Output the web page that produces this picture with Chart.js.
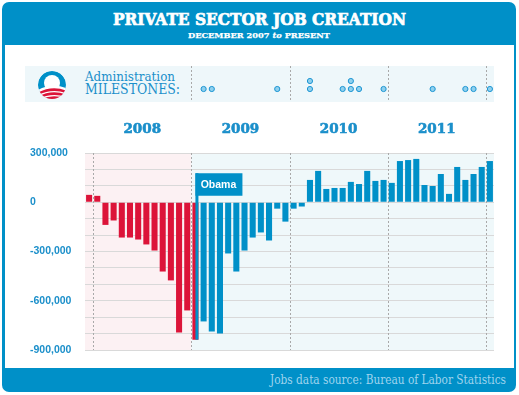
<!DOCTYPE html>
<html>
<head>
<meta charset="utf-8">
<script src="https://cdn.jsdelivr.net/npm/chart.js@4"></script>
<style>
  html, body { margin: 0; padding: 0; background: #fff; }
  #page { position: relative; width: 519px; height: 395px; overflow: hidden; }
  #frame { position: absolute; left: 0; top: 0; }
  #jobsChart { position: absolute; left: 5px; top: 105px; }
  #milestoneChart { position: absolute; left: 25px; top: 66px; }
</style>
</head>
<body>
<div id="page">
  <svg id="frame" width="519" height="395" xmlns="http://www.w3.org/2000/svg">
    <defs>
      <clipPath id="logoClip"><circle cx="0" cy="0" r="14"/></clipPath>
    </defs>
    <rect x="2" y="2" width="514" height="390" rx="7" fill="#0090c8"/>
    <rect x="5" y="45" width="509" height="323" fill="#fff"/>
    <text x="259.5" y="25" text-anchor="middle" font-family="DejaVu Serif" font-weight="900" font-size="16" fill="#fff" stroke="#fff" stroke-width="0.7" textLength="293" lengthAdjust="spacingAndGlyphs">PRIVATE SECTOR JOB CREATION</text>
    <text x="259" y="37.5" text-anchor="middle" font-family="DejaVu Serif" font-weight="700" font-size="8" fill="#fff" stroke="#fff" stroke-width="0.25" textLength="142" lengthAdjust="spacingAndGlyphs">DECEMBER 2007 <tspan font-style="italic">to</tspan> PRESENT</text>

    <rect x="25" y="66" width="469" height="36" fill="#eef7fa"/>
    <g transform="translate(52,85)" clip-path="url(#logoClip)">
      <circle cx="0" cy="0" r="14" fill="#0090c8"/>
      <circle cx="0" cy="-2" r="8" fill="#fff"/>
      <path d="M-14,5 Q0,-3 14,3 L14,14 L-14,14 Z" fill="#fff"/>
      <path d="M-14,7.5 Q0,0 14,5.5 L14,8 Q0,3 -14,10 Z" fill="#dc1439"/>
      <path d="M-14,11.5 Q0,4 14,9.5 L14,12 Q0,7 -14,14 Z" fill="#dc1439"/>
      <path d="M-14,15.5 Q0,8 14,13.5 L14,16 Q0,11 -14,18 Z" fill="#dc1439"/>
    </g>
    <text x="85" y="80.7" font-family="DejaVu Serif" font-size="12.5" fill="#1b8fca" textLength="90" lengthAdjust="spacingAndGlyphs">Administration</text>
    <text x="85" y="93.7" font-family="DejaVu Serif" font-size="15" fill="#1b8fca" textLength="95" lengthAdjust="spacingAndGlyphs">MILESTONES:</text>

    <text x="270" y="384" font-family="DejaVu Serif" font-size="12" fill="#9fd4ee" textLength="236" lengthAdjust="spacingAndGlyphs">Jobs data source: Bureau of Labor Statistics</text>
  </svg>
  <canvas id="milestoneChart" width="469" height="36"></canvas>
  <canvas id="jobsChart" width="509" height="255"></canvas>
</div>

<script>
// ===== Data =====
const months = [
  'Dec 07',
  'Jan 08','Feb 08','Mar 08','Apr 08','May 08','Jun 08','Jul 08','Aug 08','Sep 08','Oct 08','Nov 08','Dec 08',
  'Jan 09','Feb 09','Mar 09','Apr 09','May 09','Jun 09','Jul 09','Aug 09','Sep 09','Oct 09','Nov 09','Dec 09',
  'Jan 10','Feb 10','Mar 10','Apr 10','May 10','Jun 10','Jul 10','Aug 10','Sep 10','Oct 10','Nov 10','Dec 10',
  'Jan 11','Feb 11','Mar 11','Apr 11','May 11','Jun 11','Jul 11','Aug 11','Sep 11','Oct 11','Nov 11','Dec 11',
  'Jan 12'
];
const jobs = [
  45000,
  39000, -138000, -111000, -215000, -215000, -227000, -257000, -294000, -422000, -476000, -793000, -659000,
  -837000, -726000, -787000, -799000, -312000, -422000, -294000, -215000, -184000, -233000, -39000, -118000,
  -39000, -26000, 136000, 191000, 81000, 87000, 87000, 124000, 111000, 191000, 130000, 136000,
  118000, 251000, 257000, 264000, 105000, 99000, 172000, 51000, 215000, 136000, 172000, 215000,
  251000
];
const obamaMonth = 'Jan 09';   // flag goes here, blue bars start after it
const yearLabels = ['2008', '2009', '2010', '2011'];
const yearStarts = ['Jan 08', 'Jan 09', 'Jan 10', 'Jan 11', 'Jan 12'];
const yTickLabels = [300000, 0, -300000, -600000, -900000];

const milestoneMonths = ['Feb 09','Mar 09','Nov 09','Mar 10','Mar 10','Jul 10','Aug 10','Aug 10','Sep 10','Dec 10','Jun 11','Oct 11','Nov 11','Jan 12'];
const milestoneRows   = [1, 1, 1, 1, 2, 1, 1, 2, 1, 1, 1, 1, 1, 1];

const BLUE = '#0090c8';
const RED = '#dc1439';
const TEXT_BLUE = '#1b8fca';

const obamaIdx = months.indexOf(obamaMonth);
const barColors = months.map((m, i) => i <= obamaIdx ? RED : BLUE);

// left edge of a month's slot on a category scale
function slotLeft(x, idx) {
  const w = (x.right - x.left) / months.length;
  return x.getPixelForValue(idx) - w / 2;
}

// ===== Main chart decorations =====
const jobsDecor = {
  id: 'jobsDecor',
  beforeDraw(chart) {
    const { ctx, chartArea: a, scales: { x } } = chart;
    const split = slotLeft(x, obamaIdx);
    ctx.save();
    ctx.fillStyle = '#fcf1f3';
    ctx.fillRect(a.left, a.top, split - a.left, a.bottom - a.top);
    ctx.fillStyle = '#eff8fa';
    ctx.fillRect(split, a.top, a.right - split, a.bottom - a.top);
    ctx.restore();
  },
  beforeDatasetsDraw(chart) {
    const { ctx, chartArea: a, scales: { x } } = chart;
    ctx.save();
    ctx.strokeStyle = '#a9a9a9';
    ctx.lineWidth = 1;
    ctx.setLineDash([2, 2]);
    yearStarts.forEach(m => {
      const px = Math.round(slotLeft(x, months.indexOf(m))) + 0.5;
      ctx.beginPath();
      ctx.moveTo(px, a.top);
      ctx.lineTo(px, a.bottom);
      ctx.stroke();
    });
    ctx.restore();
  },
  afterDatasetsDraw(chart) {
    const { ctx, scales: { x, y } } = chart;
    ctx.save();
    // year labels
    ctx.font = 'bold 13.5px "DejaVu Serif"';
    ctx.fillStyle = TEXT_BLUE;
    ctx.strokeStyle = TEXT_BLUE;
    ctx.lineWidth = 0.6;
    ctx.textAlign = 'center';
    ctx.textBaseline = 'middle';
    yearLabels.forEach((yr, i) => {
      const l = slotLeft(x, months.indexOf(yearStarts[i]));
      const r = slotLeft(x, months.indexOf(yearStarts[i + 1]));
      ctx.fillText(yr, (l + r) / 2, 24.5);
      ctx.strokeText(yr, (l + r) / 2, 24.5);
    });
    // Obama flag
    const cx = x.getPixelForValue(obamaIdx);
    const y0 = y.getPixelForValue(0);
    const yv = y.getPixelForValue(jobs[obamaIdx]);
    ctx.fillStyle = BLUE;
    ctx.fillRect(cx, y0 - 29, 3, yv - (y0 - 29));
    ctx.fillRect(cx, y0 - 29, 47, 22.5);
    ctx.fillStyle = '#fff';
    ctx.font = 'bold 10.5px "Liberation Sans", Arial, sans-serif';
    ctx.textAlign = 'center';
    ctx.fillText('Obama', cx + 23, y0 - 17.5);
    ctx.restore();
  }
};

new Chart(document.getElementById('jobsChart').getContext('2d'), {
  type: 'bar',
  data: {
    labels: months,
    datasets: [{ data: jobs, backgroundColor: barColors, barPercentage: 0.74, categoryPercentage: 1 }]
  },
  options: {
    responsive: false,
    animation: false,
    layout: { padding: { top: 48, bottom: 10, left: 25, right: 20 } },
    plugins: { legend: { display: false }, tooltip: { enabled: false } },
    scales: {
      x: { display: false, offset: true },
      y: {
        min: -900000, max: 300000,
        afterFit(s) { s.width = 55; },
        border: { display: false },
        grid: { color: '#d9d9d9', lineWidth: 1, drawTicks: false },
        ticks: {
          stepSize: 100000,
          padding: 0,
          crossAlign: 'far',
          color: TEXT_BLUE,
          font: { family: '"Liberation Sans", Arial, sans-serif', size: 10.5, weight: 'bold' },
          callback: v => yTickLabels.includes(v) ? v.toLocaleString('en-US') : ''
        }
      }
    }
  },
  plugins: [jobsDecor]
});

// ===== Milestones strip =====
const milestoneDecor = {
  id: 'milestoneDecor',
  beforeDatasetsDraw(chart) {
    const { ctx, scales: { x } } = chart;
    ctx.save();
    ctx.strokeStyle = '#a9a9a9';
    ctx.lineWidth = 1;
    ctx.setLineDash([2, 2]);
    yearStarts.slice(1).forEach(m => {
      const px = Math.round(x.getPixelForValue(months.indexOf(m) - 0.5)) + 0.5;
      ctx.beginPath();
      ctx.moveTo(px, 0);
      ctx.lineTo(px, chart.height);
      ctx.stroke();
    });
    ctx.restore();
  }
};

new Chart(document.getElementById('milestoneChart').getContext('2d'), {
  type: 'scatter',
  data: {
    datasets: [{
      data: milestoneMonths.map((m, i) => ({ x: months.indexOf(m), y: milestoneRows[i] })),
      pointRadius: 2.6,
      pointBackgroundColor: '#8fd0ee',
      pointBorderColor: '#1c95d2',
      pointBorderWidth: 1,
      clip: false
    }]
  },
  options: {
    responsive: false,
    animation: false,
    layout: { autoPadding: false, padding: { left: 60, right: 0, top: 0, bottom: 0 } },
    plugins: { legend: { display: false }, tooltip: { enabled: false } },
    scales: {
      x: { type: 'linear', display: false, min: -0.5, max: 49.5 },
      y: { display: false, min: -0.625, max: 3.875 }
    }
  },
  plugins: [milestoneDecor]
});
</script>
</body>
</html>
